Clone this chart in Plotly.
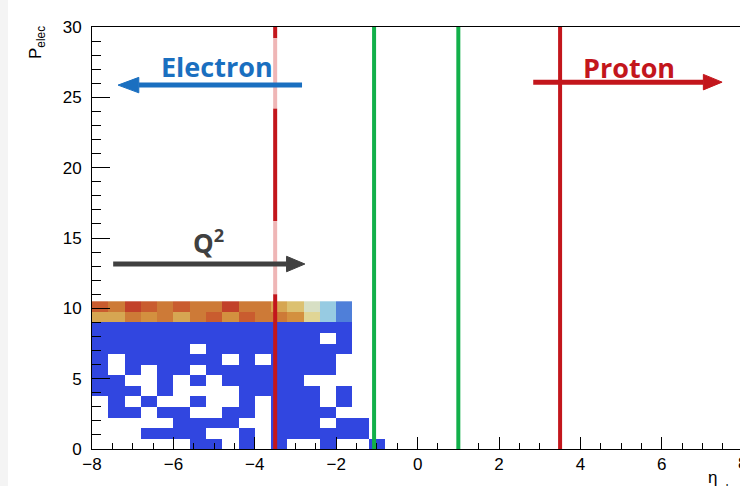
import plotly.graph_objects as go

# ---------------- data ----------------
X_MIN, X_MAX, N_XBINS = -8.0, 8.0, 40
Y_MIN, Y_MAX, N_YBINS = 0.0, 30.0, 40
BIN_DX = (X_MAX - X_MIN) / N_XBINS
BIN_DY = (Y_MAX - Y_MIN) / N_YBINS

# colour level of every filled cell (0 = lowest / blue ... 10 = highest / red)
row13_levels = [9, 8, 10, 9, 8, 9, 8, 8, 10, 8, 8, 6, 5, 3, 2, 1]
row12_levels = [6, 6, 8, 7, 8, 6, 8, 9, 7, 9, 8, 8, 7, 4, 2, 1]
# rows 11 .. 0 ('#' filled with lowest level, '.' empty)
low_rows = [
    "################..",
    "##############.#..",
    "######.#########..",
    "#.######.#.####...",
    "#.#.##.########...",
    "##..#.#.#####.....",
    "###.#....#####.#..",
    ".#.#..#..#.###.#..",
    ".##.##..##.####...",
    ".....####..###.##.",
    "...####..#.######.",
    "......##.#.#..#..#",
]

level_colors = ["#3146e0", "#4f7fd9", "#97cbe2", "#d7dfc4", "#e0d595",
                "#dcc171", "#d6a652", "#d3903f", "#cd7a37", "#c95c2f", "#c2412a"]

x_ticks_major = [-8, -6, -4, -2, 0, 2, 4, 6, 8]
y_ticks_major = [0, 5, 10, 15, 20, 25, 30]

cut_lines_red = [-3.5, 3.5]
cut_lines_green = [-1.07, 1.0]

# ---------------- build histogram grid ----------------
n_cols = len(low_rows[0])
z = []
for r_str in reversed(low_rows):
    z.append([0 if ch == "#" else None for ch in r_str])
z.append(row12_levels + [None] * (n_cols - len(row12_levels)))
z.append(row13_levels + [None] * (n_cols - len(row13_levels)))
x_centers = [X_MIN + BIN_DX * (i + 0.5) for i in range(n_cols)]
y_centers = [Y_MIN + BIN_DY * (j + 0.5) for j in range(len(z))]

nlev = len(level_colors) - 1
colorscale = [[i / nlev, c] for i, c in enumerate(level_colors)]

fig = go.Figure()
fig.add_trace(go.Heatmap(
    x=x_centers, y=y_centers, z=z, colorscale=colorscale,
    zmin=0, zmax=nlev, showscale=False, hoverongaps=False,
))

RED = "#c3161c"
PINK = "#efb6b6"
GREEN = "#12b04a"
BLUE_T = "#1a6fc0"
GRAY_T = "#404040"

shapes = []
# left cut line at -3.5 with faded segments
segs = [(30.0, 29.2, RED), (29.2, 24.2, PINK), (24.2, 16.2, RED),
        (16.2, 11.0, PINK), (11.0, 0.0, RED)]
for y0, y1, col in segs:
    shapes.append(dict(type="line", xref="x", yref="y", x0=cut_lines_red[0], x1=cut_lines_red[0],
                       y0=y0, y1=y1, line=dict(color=col, width=4), layer="above"))
shapes.append(dict(type="line", xref="x", yref="y", x0=cut_lines_red[1], x1=cut_lines_red[1],
                   y0=0, y1=30, line=dict(color=RED, width=4), layer="above"))
for gx in cut_lines_green:
    shapes.append(dict(type="line", xref="x", yref="y", x0=gx, x1=gx,
                       y0=0, y1=30, line=dict(color=GREEN, width=4), layer="above"))


def arrow(x_tail, x_base, x_tip, y, half_h, color, width):
    shapes.append(dict(type="line", xref="x", yref="y", x0=x_tail, x1=x_base, y0=y, y1=y,
                       line=dict(color=color, width=width), layer="above"))
    shapes.append(dict(type="path", xref="x", yref="y",
                       path=f"M {x_base} {y - half_h} L {x_tip} {y} L {x_base} {y + half_h} Z",
                       fillcolor=color, line=dict(color=color, width=1), layer="above"))


arrow(-2.84, -6.85, -7.36, 25.87, 0.55, BLUE_T, 5)
arrow(2.84, 7.02, 7.48, 26.08, 0.55, RED, 5)
arrow(-7.48, -3.22, -2.77, 13.15, 0.55, GRAY_T, 5)

# light strip on the far left of the canvas
shapes.append(dict(type="rect", xref="paper", yref="paper", x0=-92 / 648, x1=-84 / 648,
                   y0=-37 / 422, y1=1 + 27 / 422, fillcolor="#f4f4f4",
                   line=dict(width=0), layer="below"))

label_font = "Open Sans"
annotations = [
    dict(text="<b>Electron</b>", x=-4.92, y=27.2, xref="x", yref="y", showarrow=False,
         font=dict(family=label_font, size=27, color=BLUE_T)),
    dict(text="<b>Proton</b>", x=5.19, y=27.15, xref="x", yref="y", showarrow=False,
         font=dict(family=label_font, size=27, color=RED)),
    dict(text="<b>Q<sup>2</sup></b>", x=-5.15, y=14.75, xref="x", yref="y", showarrow=False,
         font=dict(family=label_font, size=26, color=GRAY_T)),
    dict(text="8", x=(743 - 92) / 648, y=0, xref="paper", yref="paper", showarrow=False,
         xanchor="center", yanchor="top", yshift=-3,
         font=dict(family="Liberation Sans", size=17, color="black")),
    dict(text="η", x=(706 - 92) / 648, y=-(466 - 449) / 422, xref="paper",
         yref="paper", showarrow=False, xanchor="left", yanchor="top",
         font=dict(family="Liberation Sans", size=17, color="black")),
    dict(text="elec", x=(717 - 92) / 648, y=-(480 - 449) / 422, xref="paper",
         yref="paper", showarrow=False, xanchor="left", yanchor="top",
         font=dict(family="Liberation Sans", size=12, color="black")),
    dict(text="P<sub>elec</sub>", x=(37 - 92) / 648, y=(449 - 43) / 422, xref="paper",
         yref="paper", showarrow=False, textangle=-90, xanchor="center", yanchor="middle",
         font=dict(family="Liberation Sans", size=17, color="black")),
]

axis_font = dict(family="Liberation Sans", size=17, color="black")
fig.update_layout(
    width=740, height=486,
    margin=dict(l=92, r=0, t=27, b=37, pad=0),
    plot_bgcolor="white", paper_bgcolor="white",
    showlegend=False,
    shapes=shapes, annotations=annotations,
    xaxis=dict(range=[X_MIN, 7.92], tickmode="array", tickvals=x_ticks_major,
               ticks="inside", ticklen=12, tickwidth=1, tickcolor="black",
               showline=True, linecolor="black", linewidth=1, mirror=True,
               showgrid=False, zeroline=False, tickfont=axis_font, ticklabelstandoff=0,
               minor=dict(dtick=0.5, tick0=0, ticks="inside", ticklen=6, tickwidth=1,
                          tickcolor="black", showgrid=False)),
    yaxis=dict(range=[Y_MIN, Y_MAX], tickmode="array", tickvals=y_ticks_major,
               ticks="inside", ticklen=18, tickwidth=1, tickcolor="black",
               showline=True, linecolor="black", linewidth=1, mirror=False,
               showgrid=False, zeroline=False, tickfont=axis_font, ticklabelstandoff=6,
               minor=dict(dtick=1, tick0=0, ticks="inside", ticklen=9, tickwidth=1,
                          tickcolor="black", showgrid=False)),
)

fig.write_html("out.html")
